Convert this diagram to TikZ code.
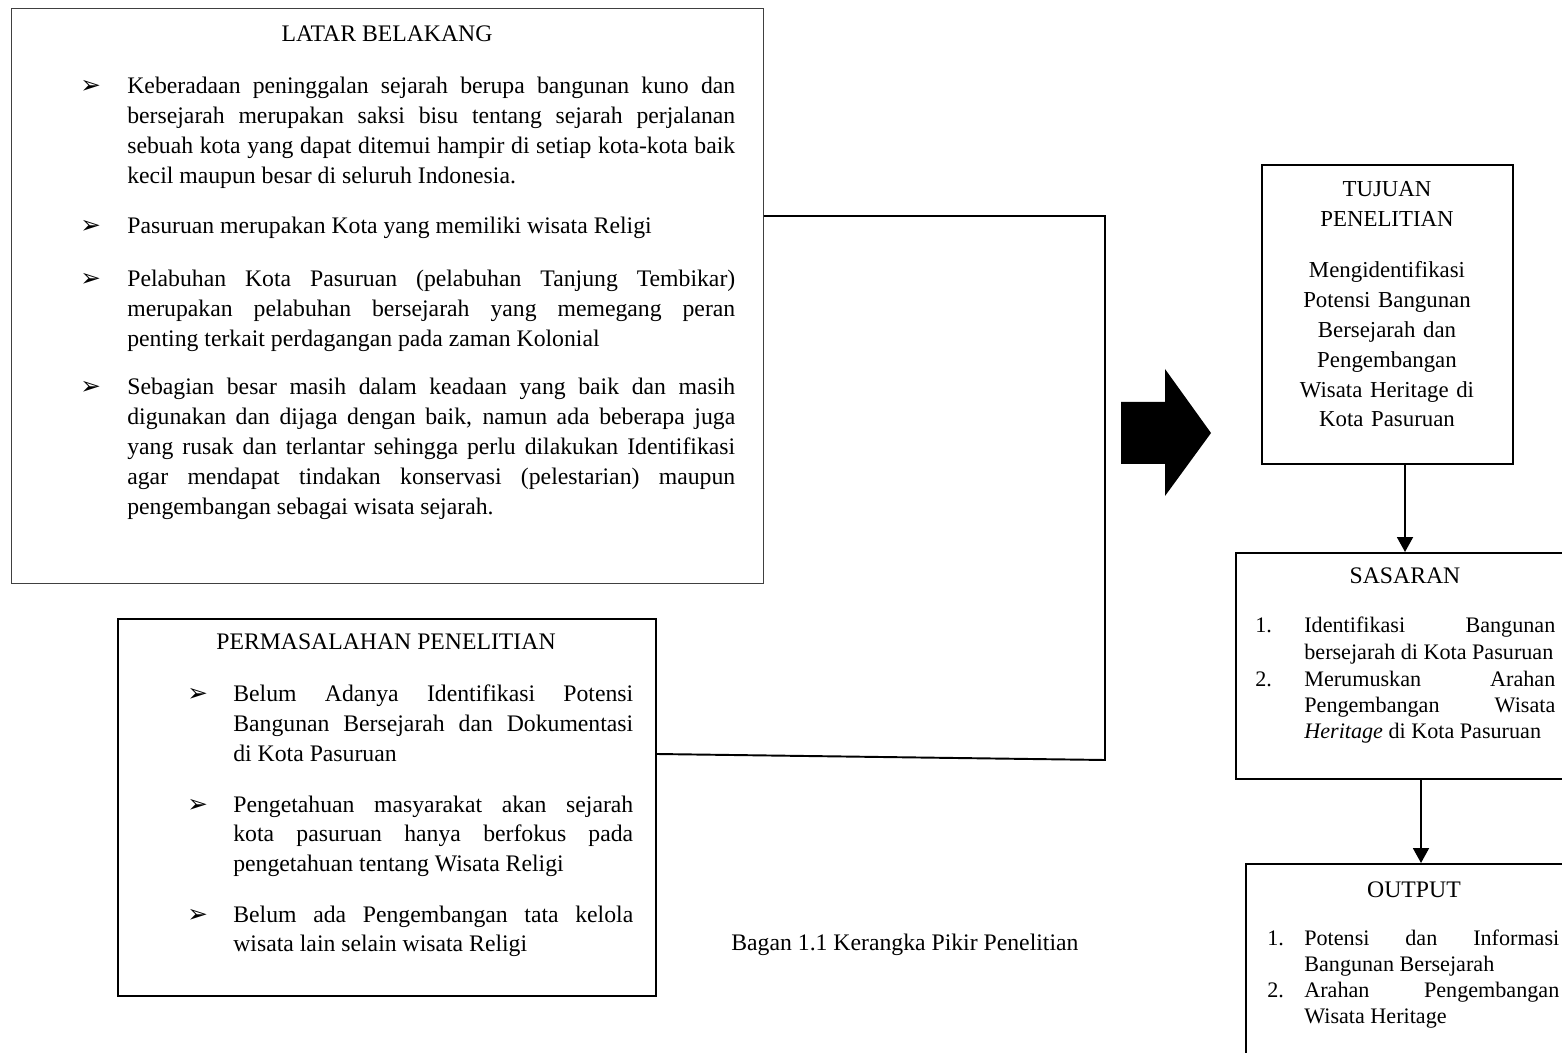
\documentclass[tikz,border=0pt]{standalone}
\usepackage{fontspec}
\setmainfont{Liberation Serif}
\newfontfamily\symfont{DejaVu Sans}
\usetikzlibrary{arrows.meta}

\hyphenpenalty=10000
\tolerance=10000
\hfuzz=20pt

\newcommand{\arrowbullet}{{\symfont\fontsize{14pt}{14pt}\selectfont ➢}}

\begin{document}
\begin{tikzpicture}[x=0.02cm, y=-0.02cm,
        box/.style={draw, line width=1.1pt, anchor=north west, inner sep=0pt},
        para/.style={anchor=base west, inner sep=0pt, align=justify,
            font=\fontsize{13.5pt}{17.07pt}\selectfont},
        listpara/.style={anchor=base west, inner sep=0pt, align=justify,
            font=\fontsize{12.6pt}{15pt}\selectfont},
        head/.style={anchor=base, inner sep=0pt, font=\fontsize{13.5pt}{17pt}\selectfont},
        itemmark/.style={anchor=base west, inner sep=0pt},
        num/.style={anchor=base west, inner sep=0pt, font=\fontsize{12.6pt}{15pt}\selectfont},
        link/.style={line width=1.1pt},
        arr/.style={line width=1.1pt, -{Triangle[length=0.3cm, width=0.32cm]}}]

    \useasboundingbox (0,0) rectangle (1562,1053);
    \clip (0,0) rectangle (1562,1053);

    % Latar belakang
    \node[box, line width=0.6pt, draw=black!75, minimum width=15.04cm, minimum height=11.5cm] (latar) at (11,8) {};
    \node[head] (latarjudul) at (387,42) {LATAR BELAKANG};
    \node[itemmark] (lbm1) at (80,94) {\arrowbullet};
    \node[para, text width=12.16cm] (lb1) at (127,94)
        {Keberadaan peninggalan sejarah berupa bangunan kuno dan \linebreak
         bersejarah merupakan saksi bisu tentang sejarah perjalanan \linebreak
         sebuah kota yang dapat ditemui hampir di setiap kota-kota baik \linebreak
         kecil maupun besar di seluruh Indonesia.};
    \node[itemmark] (lbm2) at (80,234) {\arrowbullet};
    \node[para, text width=12.16cm] (lb2) at (127,234)
        {Pasuruan merupakan Kota yang memiliki wisata Religi};
    \node[itemmark] (lbm3) at (80,287) {\arrowbullet};
    \node[para, text width=12.16cm] (lb3) at (127,287)
        {Pelabuhan Kota Pasuruan (pelabuhan Tanjung Tembikar) \linebreak
         merupakan pelabuhan bersejarah yang memegang peran \linebreak
         penting terkait perdagangan pada zaman Kolonial};
    \node[itemmark] (lbm4) at (80,395) {\arrowbullet};
    \node[para, text width=12.16cm] (lb4) at (127,395)
        {Sebagian besar masih dalam keadaan yang baik dan masih \linebreak
         digunakan dan dijaga dengan baik, namun ada beberapa juga \linebreak
         yang rusak dan terlantar sehingga perlu dilakukan Identifikasi \linebreak
         agar mendapat tindakan konservasi (pelestarian) maupun \linebreak
         pengembangan sebagai wisata sejarah.};

    % Permasalahan penelitian
    \node[box, minimum width=10.76cm, minimum height=7.54cm] (masalah) at (117,618) {};
    \node[head] (masalahjudul) at (386,650) {PERMASALAHAN PENELITIAN};
    \node[itemmark] (pmm1) at (187,702) {\arrowbullet};
    \node[para, text width=8cm] (pm1) at (233,702)
        {Belum Adanya Identifikasi Potensi \linebreak
         Bangunan Bersejarah dan Dokumentasi \linebreak
         di Kota Pasuruan};
    \node[itemmark] (pmm2) at (187,812) {\arrowbullet};
    \node[para, text width=8cm] (pm2) at (233,812)
        {Pengetahuan masyarakat akan sejarah \linebreak
         kota pasuruan hanya berfokus pada \linebreak
         pengetahuan tentang Wisata Religi};
    \node[itemmark] (pmm3) at (187,922) {\arrowbullet};
    \node[para, text width=8cm] (pm3) at (233,922)
        {Belum ada Pengembangan tata kelola \linebreak
         wisata lain selain wisata Religi};

    \node[head, anchor=base west] (bagan) at (731,950) {Bagan 1.1 Kerangka Pikir Penelitian};

    % Tujuan
    \node[box, minimum width=5.02cm, minimum height=5.98cm] (tujuan) at (1261,164) {};
    \node[head, text width=5cm, align=center, font=\fontsize{13pt}{16.8pt}\selectfont] (tujuanjudul) at (1387,197)
        {TUJUAN\\PENELITIAN};
    \node[head, text width=5cm, align=center, font=\fontsize{13pt}{16.95pt}\selectfont] (tujuanisi) at (1387,278)
        {Mengidentifikasi\\Potensi Bangunan\\Bersejarah dan\\Pengembangan\\Wisata Heritage di\\Kota Pasuruan};

    % Sasaran
    \node[box, minimum width=6.8cm, minimum height=4.52cm] (sasaran) at (1235,552) {};
    \node[head] (sasaranjudul) at (1405,584) {SASARAN};
    \node[num] (ss1n) at (1255,633) {1.};
    \node[listpara, text width=5.02cm] (ss1) at (1304,633)
        {Identifikasi Bangunan \linebreak bersejarah di Kota Pasuruan};
    \node[num] (ss2n) at (1255,686) {2.};
    \node[listpara, text width=5.02cm] (ss2) at (1304,686)
        {Merumuskan Arahan \linebreak Pengembangan Wisata \linebreak \textit{Heritage} di Kota Pasuruan};

    % Output
    \node[box, minimum width=6.76cm, minimum height=4.6cm] (output) at (1245,863) {};
    \node[head] (outputjudul) at (1414,897) {OUTPUT};
    \node[num] (op1n) at (1267,945) {1.};
    \node[listpara, text width=5.1cm] (op1) at (1304,945)
        {Potensi dan Informasi \linebreak Bangunan Bersejarah};
    \node[num] (op2n) at (1267,997) {2.};
    \node[listpara, text width=5.1cm] (op2) at (1304,997)
        {Arahan Pengembangan \linebreak Wisata Heritage};

    % Connectors
    \coordinate (j1) at (1105,216);
    \coordinate (j2) at (1105,760);
    \coordinate (mk) at (0,754);
    \draw[link] (latar.east |- j1) -- (j1) -- (j2) -- (masalah.east |- mk);

    \fill (1121,402) -- (1165,402) -- (1165,369) -- (1211,433) -- (1165,496)
        -- (1165,464) -- (1121,464) -- cycle;

    \coordinate (a1) at (1405,0);
    \coordinate (a2) at (1421,0);
    \draw[arr] (tujuan.south -| a1) -- (sasaran.north -| a1);
    \draw[arr] (sasaran.south -| a2) -- (output.north -| a2);
\end{tikzpicture}
\end{document}
